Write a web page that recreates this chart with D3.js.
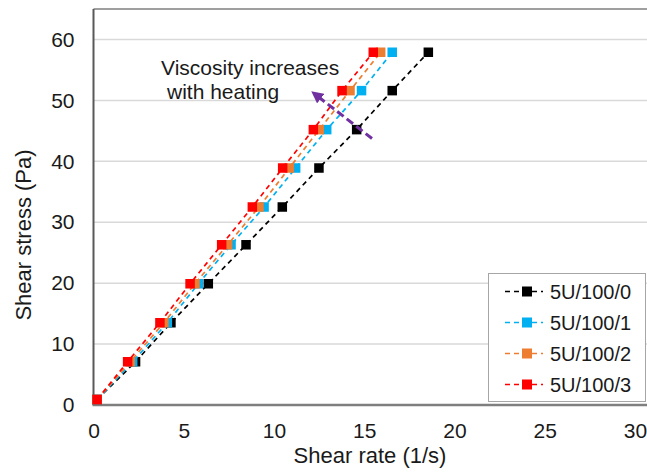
<!DOCTYPE html>
<html>
<head>
<meta charset="utf-8">
<script src="https://cdn.jsdelivr.net/npm/d3@7/dist/d3.min.js"></script>
<style>
  html, body { margin: 0; padding: 0; background: #fff; }
  svg { display: block; }
  text { font-family: "Liberation Sans", Arial, sans-serif; fill: #1a1a1a; }
</style>
</head>
<body>
<svg id="chart" width="647" height="473"></svg>
<script>
// ---- data ----
const stress = [0.9, 7.1, 13.5, 19.9, 26.3, 32.5, 38.9, 45.2, 51.6, 57.9];
const rate_5U_100_0 = [0.2, 2.33, 4.29, 6.36, 8.45, 10.46, 12.49, 14.58, 16.55, 18.55];
const rate_5U_100_1 = [0.2, 2.17, 4.09, 5.81, 7.62, 9.45, 11.2, 12.92, 14.85, 16.55];
const rate_5U_100_2 = [0.2, 2.03, 3.9, 5.62, 7.43, 9.17, 10.85, 12.51, 14.21, 15.91];
const rate_5U_100_3 = [0.2, 1.89, 3.68, 5.35, 7.1, 8.8, 10.48, 12.18, 13.77, 15.5];
const seriesNames = ["5U/100/0", "5U/100/1", "5U/100/2", "5U/100/3"];
const seriesColors = ["#000000", "#00B0F0", "#ED7D31", "#FF0000"];
const xTicks = [0, 5, 10, 15, 20, 25, 30];
const yTicks = [0, 10, 20, 30, 40, 50, 60];
const xTitle = "Shear rate (1/s)";
const yTitle = "Shear stress (Pa)";
const annotation = ["Viscosity increases", "with heating"];

const series = [rate_5U_100_0, rate_5U_100_1, rate_5U_100_2, rate_5U_100_3].map((r, i) => ({
  name: seriesNames[i], color: seriesColors[i],
  points: r.map((x, j) => ({ x, y: stress[j] }))
}));

// ---- layout ----
const svg = d3.select("#chart");
const W = 647;
const x = d3.scaleLinear().domain([0, 30]).range([93.5, 635]);
const y = d3.scaleLinear().domain([0, 65]).range([405, 9]);

// gridlines
svg.append("g").selectAll("line").data(yTicks.filter(d => d > 0)).join("line")
  .attr("x1", x(0)).attr("x2", W)
  .attr("y1", d => y(d)).attr("y2", d => y(d))
  .attr("stroke", "#d9d9d9").attr("stroke-width", 1.5);

// frame: left spine and top border
svg.append("line").attr("x1", x(0)).attr("x2", W).attr("y1", y(65)).attr("y2", y(65))
  .attr("stroke", "#7f7f7f").attr("stroke-width", 1.5);
svg.append("line").attr("x1", x(0)).attr("x2", x(0)).attr("y1", y(65)).attr("y2", y(0))
  .attr("stroke", "#595959").attr("stroke-width", 2);

// axes (labels only, via d3 axes)
const xAxis = svg.append("g").attr("transform", `translate(0,${y(0)})`)
  .call(d3.axisBottom(x).tickValues(xTicks).tickSize(0).tickPadding(18).tickFormat(d3.format("d")));
xAxis.select(".domain").remove();
xAxis.selectAll("text").style("font-size", "21px").attr("fill", "#1a1a1a")
  .style("font-family", "'Liberation Sans', Arial, sans-serif");

const yAxis = svg.append("g").attr("transform", `translate(${x(0)},0)`)
  .call(d3.axisLeft(y).tickValues(yTicks).tickSize(0).tickPadding(19).tickFormat(d3.format("d")));
yAxis.select(".domain").remove();
yAxis.selectAll("text").style("font-size", "21px").attr("fill", "#1a1a1a")
  .style("font-family", "'Liberation Sans', Arial, sans-serif");

// bottom axis line
svg.append("line").attr("x1", x(0) - 1).attr("x2", W).attr("y1", y(0)).attr("y2", y(0))
  .attr("stroke", "#7f7f7f").attr("stroke-width", 2.5);

// axis titles
svg.append("text").attr("x", 370).attr("y", 463).attr("text-anchor", "middle")
  .style("font-size", "22px").text(xTitle);
svg.append("text").attr("transform", "translate(31,235) rotate(-90)").attr("text-anchor", "middle")
  .style("font-size", "22px").text(yTitle);

// series lines + markers
const line = d3.line().x(d => x(d.x)).y(d => y(d.y));
const ms = 9.5;
series.forEach(s => {
  const g = svg.append("g");
  g.append("path").datum(s.points).attr("d", line)
    .attr("fill", "none").attr("stroke", s.color).attr("stroke-width", 1.7)
    .attr("stroke-dasharray", "5,4");
  g.selectAll("rect").data(s.points).join("rect")
    .attr("x", d => x(d.x) - ms / 2).attr("y", d => y(d.y) - ms / 2)
    .attr("width", ms).attr("height", ms).attr("fill", s.color);
});

// annotation arrow
const defs = svg.append("defs");
defs.append("marker").attr("id", "ah").attr("viewBox", "0 0 10 10")
  .attr("refX", 5).attr("refY", 5).attr("markerWidth", 4).attr("markerHeight", 4)
  .attr("orient", "auto").attr("markerUnits", "strokeWidth")
  .append("path").attr("d", "M0,0 L10,5 L0,10 Z").attr("fill", "#7030A0");
svg.append("line")
  .attr("x1", 372).attr("y1", 138.5).attr("x2", 316).attr("y2", 95)
  .attr("stroke", "#7030A0").attr("stroke-width", 3)
  .attr("stroke-dasharray", "8,4").attr("marker-end", "url(#ah)");
svg.append("text").attr("x", 161).attr("y", 75).style("font-size", "21px").text(annotation[0]);
svg.append("text").attr("x", 167).attr("y", 99).style("font-size", "21px").text(annotation[1]);

// legend
const lg = svg.append("g");
lg.append("rect").attr("x", 488.5).attr("y", 273.5).attr("width", 157).attr("height", 128)
  .attr("fill", "#fff").attr("stroke", "#a6a6a6").attr("stroke-width", 1);
series.forEach((s, i) => {
  const cy = 291.5 + i * 31;
  lg.append("line").attr("x1", 505).attr("x2", 543).attr("y1", cy).attr("y2", cy)
    .attr("stroke", s.color).attr("stroke-width", 1.7).attr("stroke-dasharray", "5,4");
  lg.append("rect").attr("x", 527 - 5).attr("y", cy - 5).attr("width", 10).attr("height", 10)
    .attr("fill", s.color);
  lg.append("text").attr("x", 550).attr("y", cy + 7.5).style("font-size", "20px").text(s.name);
});
</script>
</body>
</html>
